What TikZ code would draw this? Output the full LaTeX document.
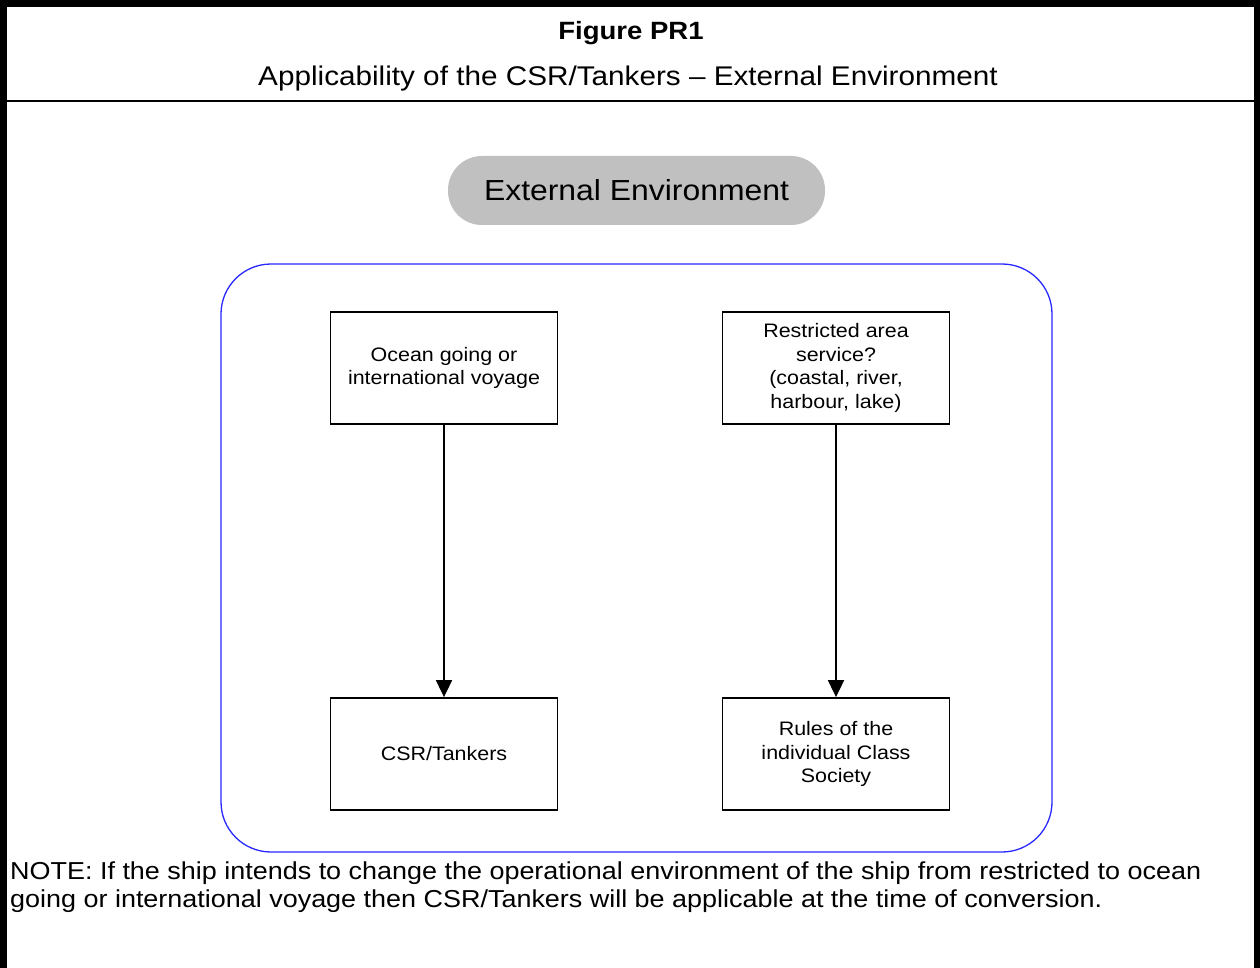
\documentclass[tikz,border=0pt]{standalone}
\usepackage{fontspec}
\setmainfont[FakeStretch=1.1]{Liberation Sans}
\usetikzlibrary{arrows.meta}
\definecolor{pillgray}{RGB}{192,192,192}
\definecolor{frameblue}{RGB}{40,40,255}
\begin{document}
\begin{tikzpicture}[x=1pt,y=-1pt,
  box/.style={draw,line width=1.8pt,minimum width=227pt,minimum height=112pt,align=center,
    font=\fontsize{19.5}{23.5}\selectfont,inner sep=0pt},
  pill/.style={fill=pillgray,rounded corners=34pt,minimum width=377pt,minimum height=69pt,
    inner sep=0pt,font=\fontsize{29}{34}\selectfont},
  conn/.style={line width=1.8pt,-{Triangle[width=16pt,length=17pt]}},
  title/.style={font=\fontsize{25}{30}\selectfont\bfseries,inner sep=0pt,anchor=base},
  subtitle/.style={font=\fontsize{27}{30}\selectfont,inner sep=0pt,anchor=base},
  note/.style={font=\fontsize{24.5}{28}\selectfont,align=left,inner sep=0pt,anchor=north west}]
\useasboundingbox (0,0) rectangle (1260,968);
\fill[white] (0,0) rectangle (1260,968);
% outer frame
\draw[line width=7pt] (3,975) -- (3,3.5) -- (1257,3.5) -- (1257,975);
\draw[line width=2pt] (3,101) -- (1257,101);
% titles
\node[title] (t1) at (631,40) {Figure PR1};
\node[subtitle] (t2) at (628,86) {Applicability of the CSR/Tankers -- External Environment};
% pill
\node[pill] (env) at (636.5,190.5) {External Environment};
% blue container
\draw[frameblue,line width=1.3pt,rounded corners=50pt] (221,264) rectangle (1052,852);
% boxes
\node[box] (ocean) at (444,368) {Ocean going or\\international voyage};
\node[box] (restr) at (836,368) {Restricted area\\service?\\(coastal, river,\\harbour, lake)};
\node[box] (csr) at (444,754) {CSR/Tankers};
\node[box] (rules) at (836,754) {Rules of the\\individual Class\\Society};
% connectors
\draw[conn] (ocean) -- (csr);
\draw[conn] (restr) -- (rules);
% note
\node[note] (nt) at (10,862) {NOTE: If the ship intends to change the operational environment of the ship from restricted to ocean\\going or international voyage then CSR/Tankers will be applicable at the time of conversion.};
\end{tikzpicture}
\end{document}
